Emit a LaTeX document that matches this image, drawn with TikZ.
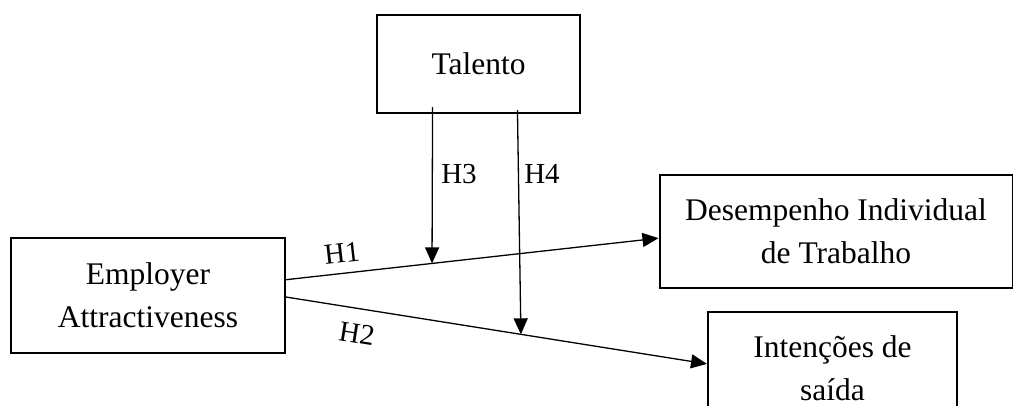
\documentclass[tikz,border=0pt]{standalone}
\usepackage{fontspec}
\setmainfont{Liberation Serif}
\usetikzlibrary{arrows.meta,calc}
\begin{document}
\begin{tikzpicture}[x=1pt,y=-1pt,
  box/.style={draw,line width=2pt,inner sep=0pt,align=center,
    font=\fontsize{31.5}{43}\selectfont},
  arr/.style={line width=1.3pt,-{Triangle[length=16pt,width=14pt]}},
  lab/.style={font=\fontsize{29}{34}\selectfont,inner sep=0pt}]
\useasboundingbox (0,0) rectangle (1013,405);
\clip (0,0) rectangle (1013,405);
\node[box,minimum width=274pt,minimum height=115pt] (emp) at (148,295.5) {Employer\\Attractiveness};
\node[box,minimum width=203pt,minimum height=98pt] (tal) at (478.5,64) {Talento};
\node[box,minimum width=353pt,minimum height=113pt] (des) at (836,231.5) {Desempenho Individual\\de Trabalho};
\node[box,minimum width=249pt,minimum height=113pt] (int) at (832.5,368.5) {Intenções de\\saída};
\draw[arr] ($(emp.north east)!0.365!(emp.south east)$) -- coordinate[pos=0.392](h3end) ($(des.north west)!0.558!(des.south west)$);
\draw[arr] ($(emp.north east)!0.513!(emp.south east)$) -- coordinate[pos=0.558](h4end) ($(int.north west)!0.46!(int.south west)$);
\coordinate (h3start) at ($(tal.south west)!0.276!(tal.south east)+(0,-7)$);
\coordinate (h4start) at ($(tal.south west)!0.69!(tal.south east)+(0,-4)$);
\draw[arr] (h3start) -- (h3end);
\draw[arr] (h4start) -- (h4end);
\node[lab] (l3) at (459,174) {H3};
\node[lab] (l4) at (542,174) {H4};
\node[lab,rotate=6.5] (l1) at (342,253) {H1};
\node[lab,rotate=-9] (l2) at (357,334) {H2};
\end{tikzpicture}
\end{document}
